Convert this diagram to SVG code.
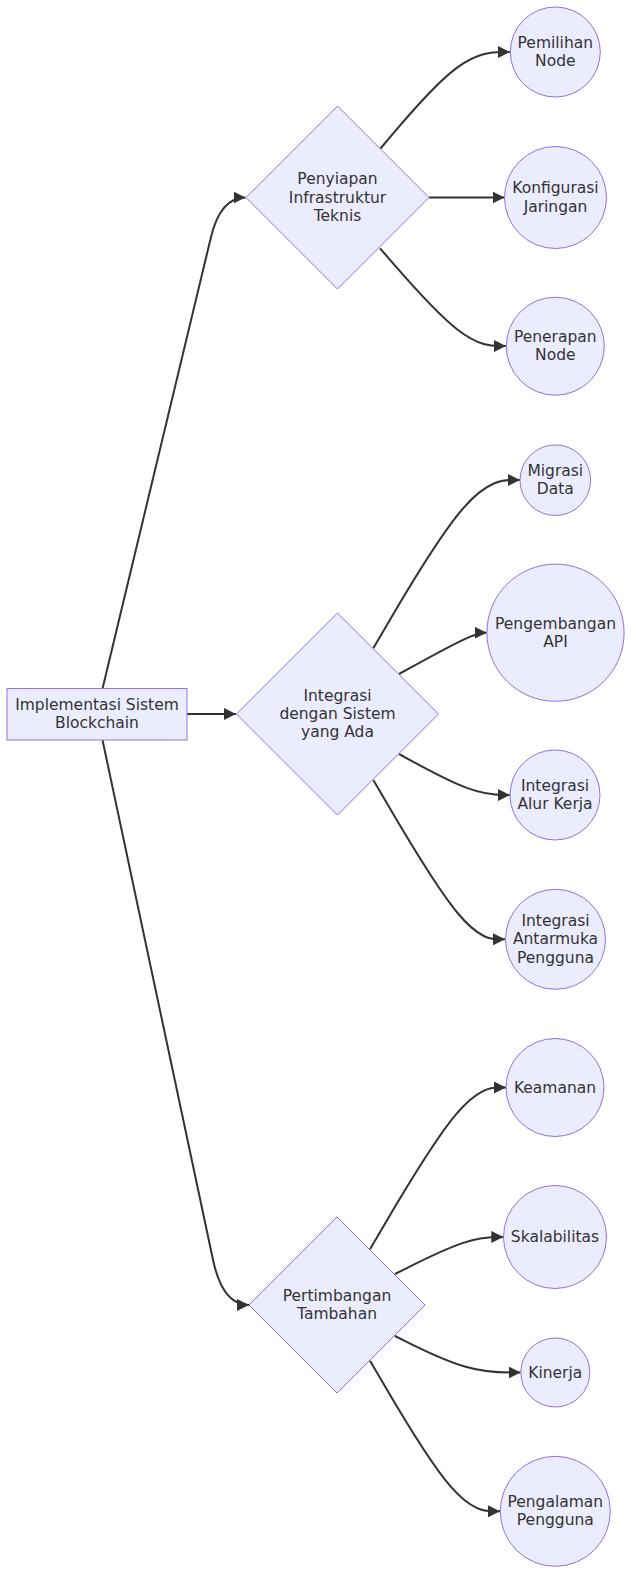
<svg xmlns="http://www.w3.org/2000/svg" width="640" height="1595" viewBox="0 0 640 1595">
<style>
.node rect,.node circle,.node polygon{fill:#ECECFF;stroke:#9370DB;stroke-width:1}
.node text{font-family:"DejaVu Sans",Verdana,sans-serif;font-size:15.5px;fill:#333333;text-anchor:middle;dominant-baseline:central}
.edge{fill:none;stroke:#333333;stroke-width:2}
</style>
<defs>
<marker id="arrow" viewBox="0 0 10 10" refX="10" refY="5" markerUnits="userSpaceOnUse" markerWidth="12" markerHeight="12" orient="auto">
<path d="M0,0 L10,5 L0,10 z" fill="#333333"/>
</marker>
</defs>
<rect width="640" height="1595" fill="#ffffff"/>
<g id="edges">
<path class="edge" marker-end="url(#arrow)" d="M102.5,688.7 L211,237 Q220.5,197.5 245.5,197.5"/>
<path class="edge" marker-end="url(#arrow)" d="M187,714 L236,714"/>
<path class="edge" marker-end="url(#arrow)" d="M102.5,740 L213,1259.8 Q222.5,1305 249,1305"/>
<path class="edge" marker-end="url(#arrow)" d="M380.5,148.5 L394.08,132.42 C407.67,116.33 434.83,84.17 456.42,68.08 C478,52 494,52 502,52 L510,52"/>
<path class="edge" marker-end="url(#arrow)" d="M429,197.5 L504.5,197.5"/>
<path class="edge" marker-end="url(#arrow)" d="M380,248.3 L394.17,264.58 C408.33,280.87 436.67,313.43 457.67,329.72 C478.67,346 492.33,346 499.17,346 L506,346"/>
<path class="edge" marker-end="url(#arrow)" d="M373.3,648.3 L389.7,620.25 C406.1,592.2 438.9,536.1 463.35,508.05 C487.8,480 503.9,480 511.95,480 L520,480"/>
<path class="edge" marker-end="url(#arrow)" d="M399,674 L411.5,667.12 C424,660.23 449,646.47 463.62,639.58 C478.23,632.7 482.47,632.7 484.58,632.7 L486.7,632.7"/>
<path class="edge" marker-end="url(#arrow)" d="M399,754 L411.5,760.83 C424,767.67 449,781.33 467.5,788.17 C486,795 498,795 504,795 L510,795"/>
<path class="edge" marker-end="url(#arrow)" d="M373.3,780 L388.83,806.55 C404.37,833.1 435.43,886.2 457.38,912.75 C479.33,939.3 492.17,939.3 498.58,939.3 L505,939.3"/>
<path class="edge" marker-end="url(#arrow)" d="M370,1249.3 L385.83,1222.33 C401.67,1195.37 433.33,1141.43 456,1114.47 C478.67,1087.5 492.33,1087.5 499.17,1087.5 L506,1087.5"/>
<path class="edge" marker-end="url(#arrow)" d="M395,1274 L407.33,1267.83 C419.67,1261.67 444.33,1249.33 462.38,1243.17 C480.43,1237 491.87,1237 497.58,1237 L503.3,1237"/>
<path class="edge" marker-end="url(#arrow)" d="M395,1336 L407.17,1342.08 C419.33,1348.17 443.67,1360.33 464.62,1366.42 C485.57,1372.5 503.13,1372.5 511.92,1372.5 L520.7,1372.5"/>
<path class="edge" marker-end="url(#arrow)" d="M370,1360.7 L384.67,1385.8 C399.33,1410.9 428.67,1461.1 450.33,1486.2 C472,1511.3 486,1511.3 493,1511.3 L500,1511.3"/>
</g>
<g id="root" class="node">
<rect x="7" y="688.5" width="180" height="51.5"/>
<text x="97" y="704.9">Implementasi Sistem</text>
<text x="97" y="723.1">Blockchain</text>
</g>
<g id="penyiapan" class="node">
<polygon points="337.5,106 429,197.5 337.5,289 246,197.5"/>
<text x="337.5" y="179.2">Penyiapan</text>
<text x="337.5" y="197.5">Infrastruktur</text>
<text x="337.5" y="215.8">Teknis</text>
</g>
<g id="integrasi" class="node">
<polygon points="337.5,613 438.5,714 337.5,815 236.5,714"/>
<text x="337.5" y="695.7">Integrasi</text>
<text x="337.5" y="714">dengan Sistem</text>
<text x="337.5" y="732.3">yang Ada</text>
</g>
<g id="pertimbangan" class="node">
<polygon points="337,1217 425,1305 337,1393 249,1305"/>
<text x="337" y="1295.9">Pertimbangan</text>
<text x="337" y="1314.1">Tambahan</text>
</g>
<g id="pemilihan" class="node">
<circle cx="555.3" cy="52" r="45"/>
<text x="555.3" y="42.9">Pemilihan</text>
<text x="555.3" y="61.1">Node</text>
</g>
<g id="konfigurasi" class="node">
<circle cx="555.5" cy="197.5" r="51"/>
<text x="555.5" y="188.4">Konfigurasi</text>
<text x="555.5" y="206.6">Jaringan</text>
</g>
<g id="penerapan" class="node">
<circle cx="555.3" cy="346.2" r="49"/>
<text x="555.3" y="337.1">Penerapan</text>
<text x="555.3" y="355.3">Node</text>
</g>
<g id="migrasi" class="node">
<circle cx="555.3" cy="480.2" r="35.3"/>
<text x="555.3" y="471.1">Migrasi</text>
<text x="555.3" y="489.3">Data</text>
</g>
<g id="api" class="node">
<circle cx="555.5" cy="632.7" r="68.6"/>
<text x="555.5" y="623.6">Pengembangan</text>
<text x="555.5" y="641.8">API</text>
</g>
<g id="alurkerja" class="node">
<circle cx="555" cy="795" r="45"/>
<text x="555" y="785.9">Integrasi</text>
<text x="555" y="804.1">Alur Kerja</text>
</g>
<g id="antarmuka" class="node">
<circle cx="555.5" cy="939.3" r="50"/>
<text x="555.5" y="921">Integrasi</text>
<text x="555.5" y="939.3">Antarmuka</text>
<text x="555.5" y="957.6">Pengguna</text>
</g>
<g id="keamanan" class="node">
<circle cx="555" cy="1087.5" r="49"/>
<text x="555" y="1087.5">Keamanan</text>
</g>
<g id="skalabilitas" class="node">
<circle cx="555" cy="1237" r="51.5"/>
<text x="555" y="1237">Skalabilitas</text>
</g>
<g id="kinerja" class="node">
<circle cx="555.3" cy="1372.5" r="34.5"/>
<text x="555.3" y="1372.5">Kinerja</text>
</g>
<g id="pengalaman" class="node">
<circle cx="555.3" cy="1511.3" r="55"/>
<text x="555.3" y="1502.2">Pengalaman</text>
<text x="555.3" y="1520.4">Pengguna</text>
</g>
</svg>
